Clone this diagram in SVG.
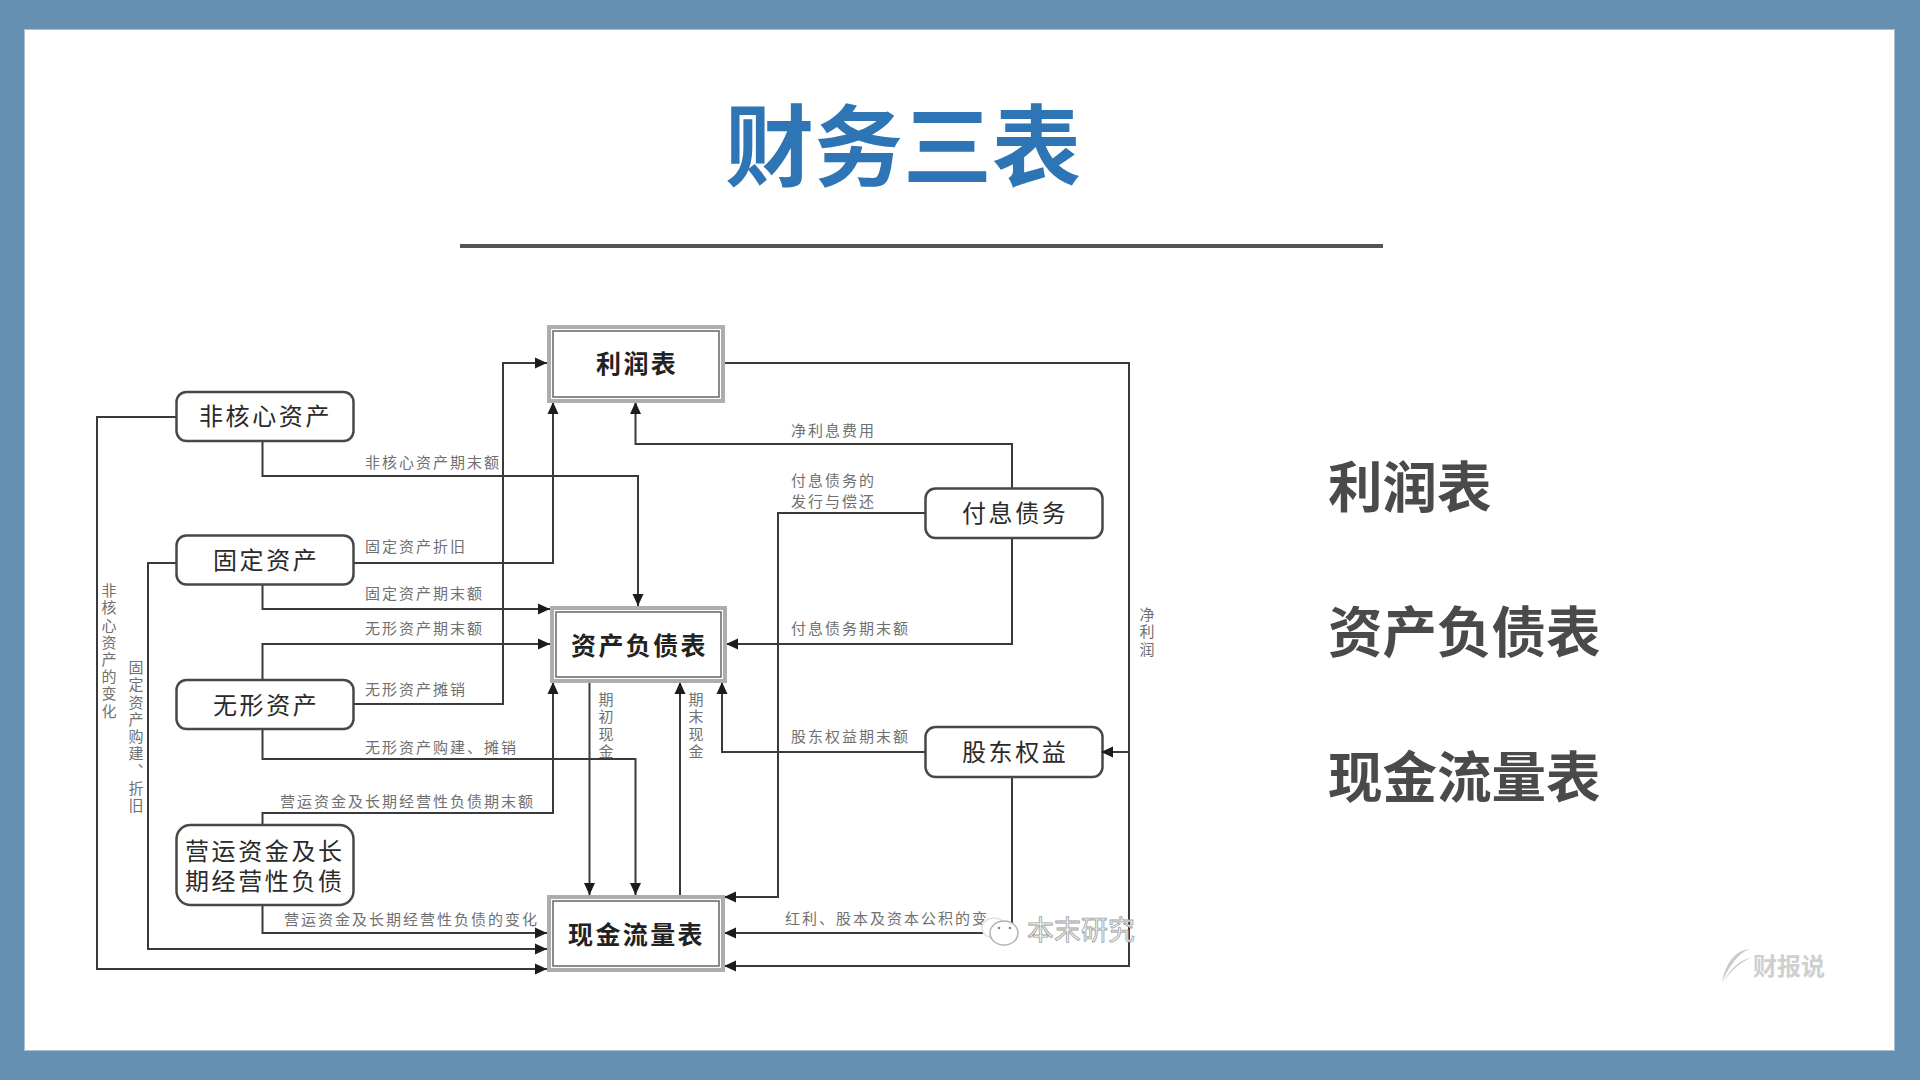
<svg xmlns="http://www.w3.org/2000/svg" width="1920" height="1080" viewBox="0 0 1920 1080">
<style>
text{font-family:"Noto Sans CJK SC","Noto Sans",sans-serif;dominant-baseline:central}
.node rect{fill:#fff;stroke:#484848;stroke-width:2.5}
.stmt .o{fill:#fff;stroke:#adadad;stroke-width:4}
.stmt .i{fill:#fff;stroke:#666;stroke-width:1.500}
.nt{font-size:24px;letter-spacing:2.600px;fill:#2a2a2a}
.st{font-size:25px;letter-spacing:2.400px;fill:#222;font-weight:700}
.lb{font-size:15px;letter-spacing:2px;fill:#707070}
.vl{font-size:15px;letter-spacing:2.200px;fill:#707070;writing-mode:vertical-rl;text-orientation:upright}
#connectors path{fill:none;stroke:#3a3a3a;stroke-width:2}
.a{marker-end:url(#arr)}
.side{font-size:54.500px;font-weight:700;fill:#4a4a4a}
</style>
<defs>
<marker id="arr" markerUnits="userSpaceOnUse" markerWidth="12" markerHeight="12" viewBox="0 0 12 12" refX="12" refY="6" orient="auto"><path d="M0 0.500L12 6L0 11.500z" fill="#1c1c1c"/></marker>
</defs>
<rect width="1920" height="1080" fill="#6590b2"/>
<rect x="24.500" y="29.500" width="1870" height="1021" fill="#fff" stroke="#a9c0d2"/>
<text x="725" y="140" font-size="89" font-weight="700" fill="#2e75b6">财务三表</text>
<rect x="460" y="244" width="923" height="4" fill="#555"/>

<g id="connectors">
<path class="a" d="M176 417H97V969H547"/>
<path class="a" d="M176 563H148V949H547"/>
<path class="a" d="M262.500 905V933H547"/>
<path class="a" d="M262.500 442V476H638V606"/>
<path class="a" d="M354 563H553V402"/>
<path class="a" d="M262.500 585V609H550"/>
<path class="a" d="M262.500 680V644H550"/>
<path class="a" d="M354 704H503V363H547"/>
<path class="a" d="M262.500 730V759H635.500V895"/>
<path class="a" d="M262.500 825V813H553V682"/>
<path class="a" d="M589.500 682V895"/>
<path class="a" d="M680 895V682"/>
<path class="a" d="M925 752H722V682"/>
<path class="a" d="M1012 488V444H635.500V402"/>
<path class="a" d="M925 513H778V897H724"/>
<path class="a" d="M1012 539V644H726"/>
<path class="a" d="M1012 778V933H724"/>
<path class="a" d="M724 363H1129V966H724"/>
</g>

<g id="labels">
<text class="lb" x="365" y="461">非核心资产期末额</text>
<text class="lb" x="365" y="545">固定资产折旧</text>
<text class="lb" x="365" y="592">固定资产期末额</text>
<text class="lb" x="365" y="627.500">无形资产期末额</text>
<text class="lb" x="365" y="688">无形资产摊销</text>
<text class="lb" x="365" y="746.500">无形资产购建、摊销</text>
<text class="lb" x="280" y="800">营运资金及长期经营性负债期末额</text>
<text class="lb" x="284" y="918.500">营运资金及长期经营性负债的变化</text>
<text class="lb" x="791" y="429">净利息费用</text>
<text class="lb" x="791" y="479.500">付息债务的</text>
<text class="lb" x="791" y="500">发行与偿还</text>
<text class="lb" x="791" y="627">付息债务期末额</text>
<text class="lb" x="791" y="735">股东权益期末额</text>
<text class="lb" x="785" y="917">红利、股本及资本公积的变</text>
<text class="vl" x="109" y="583">非核心资产的变化</text>
<text class="vl" x="136" y="660">固定资产购建、折旧</text>
<text class="vl" x="606" y="692">期初现金</text>
<text class="vl" x="696" y="692">期末现金</text>
<text class="vl" x="1147" y="607">净利润</text>
</g>

<g id="node-lirun" class="stmt"><rect class="o" x="549" y="327" width="174" height="74"/><rect class="i" x="553" y="331" width="166" height="66"/><text class="st" x="596" y="361.500">利润表</text></g>
<g id="node-zichan" class="stmt"><rect class="o" x="552" y="608" width="173" height="73"/><rect class="i" x="556" y="612" width="165" height="65"/><text class="st" x="571" y="643.500">资产负债表</text></g>
<g id="node-xianjin" class="stmt"><rect class="o" x="549" y="897" width="174" height="73"/><rect class="i" x="553" y="901" width="166" height="65"/><text class="st" x="568" y="932.500">现金流量表</text></g>
<g id="node-feihexin" class="node"><rect x="176.500" y="392" width="177" height="49" rx="10"/><text class="nt" x="199" y="414.500">非核心资产</text></g>
<g id="node-guding" class="node"><rect x="176.500" y="535.500" width="177" height="49" rx="10"/><text class="nt" x="213" y="558">固定资产</text></g>
<g id="node-wuxing" class="node"><rect x="176.500" y="680" width="177" height="49" rx="10"/><text class="nt" x="213" y="703">无形资产</text></g>
<g id="node-yingyun" class="node"><rect x="176.500" y="825" width="177" height="80" rx="14"/><text class="nt" x="185" y="849">营运资金及长<tspan x="185" dy="30">期经营性负债</tspan></text></g>
<g id="node-fuxi" class="node"><rect x="925.500" y="488.500" width="177" height="49.500" rx="10"/><text class="nt" x="962" y="511">付息债务</text></g>
<g id="node-gudong" class="node"><rect x="925.500" y="727" width="177" height="50" rx="10"/><text class="nt" x="962" y="750">股东权益</text></g>

<path d="M1103 752H1129" fill="none" stroke="#3a3a3a" stroke-width="2"/>
<path d="M1101 752l12-5.500v11z" fill="#1c1c1c"/>

<g id="watermark">
<ellipse cx="994" cy="928" rx="12" ry="10" fill="#fff" stroke="#e2e2e2" stroke-width="1.500"/>
<ellipse cx="1004" cy="933" rx="14" ry="12" fill="#fff" stroke="#b0b0b0" stroke-width="1.500"/>
<circle cx="999" cy="928" r="1.300" fill="#888"/><circle cx="1010" cy="928" r="1.300" fill="#888"/>
<text x="1027" y="928" font-size="27" fill="#f7f7f7" stroke="#a0a0a0" stroke-width="0.800">本末研究</text>
</g>

<text class="side" x="1328" y="483">利润表</text>
<text class="side" x="1328" y="628">资产负债表</text>
<text class="side" x="1328" y="773">现金流量表</text>

<g id="logo">
<path d="M1722 982C1726 962 1736 950 1750 949C1738 953 1730 965 1722 982z" fill="#c9c9c9"/>
<path d="M1723 982C1732 966 1742 959 1751 958C1740 962 1732 970 1723 982z" fill="#c9c9c9"/>
<text x="1753" y="964" font-size="24" font-weight="700" fill="#cfcfcf">财报说</text>
</g>
</svg>
